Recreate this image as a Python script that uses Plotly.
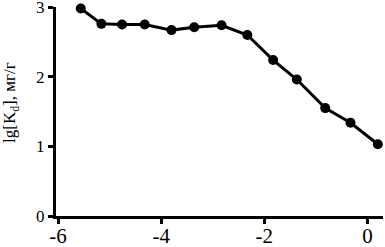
import plotly.graph_objects as go

x_vals = [-5.56, -5.16, -4.76, -4.32, -3.80, -3.36, -2.83, -2.33, -1.83, -1.37, -0.82, -0.33, 0.20]
y_vals = [2.98, 2.76, 2.75, 2.75, 2.67, 2.71, 2.74, 2.60, 2.24, 1.96, 1.55, 1.34, 1.03]
x_ticks = [-6, -4, -2, 0]
y_ticks = [0, 1, 2, 3]
y_title = "lg[K<sub>d</sub>], мг/г"

fig = go.Figure()
fig.add_trace(go.Scatter(
    x=x_vals, y=y_vals, mode="lines+markers",
    line=dict(color="black", width=3),
    marker=dict(color="black", size=10),
    cliponaxis=False, showlegend=False,
))

xfont = dict(family="Liberation Serif", size=21, color="black")
yfont = dict(family="Liberation Serif", size=17, color="black")
fig.update_layout(
    width=385, height=247,
    margin=dict(l=56, r=2, t=7, b=31),
    plot_bgcolor="white", paper_bgcolor="white",
    font=yfont,
    xaxis=dict(range=[-6.04, 0.30], tickvals=x_ticks, ticktext=[str(v) for v in x_ticks],
               showline=True, linecolor="black", linewidth=3, ticks="outside",
               ticklen=5, tickwidth=3, tickcolor="black", showgrid=False, zeroline=False,
               tickfont=xfont, automargin=False, ticklabeloverflow="allow",
               ticklabelstandoff=-6),
    yaxis=dict(range=[0, 3.002], tickvals=y_ticks, ticktext=[str(v) for v in y_ticks],
               showline=True, linecolor="black", linewidth=3, ticks="outside",
               ticklen=5, tickwidth=3, tickcolor="black", showgrid=False, zeroline=False,
               tickfont=yfont, automargin=False, ticklabeloverflow="allow"),
    annotations=[dict(text=y_title, textangle=-90, xref="paper", yref="paper",
                      x=-45 / 327, y=(216 - 103) / 209, xanchor="center", yanchor="middle",
                      showarrow=False,
                      font=dict(family="Liberation Serif", size=17, color="black"))],
)
fig.write_html("out.html", config={"displayModeBar": False},
               post_script="document.body.style.margin='0';document.body.style.overflow='hidden';")
